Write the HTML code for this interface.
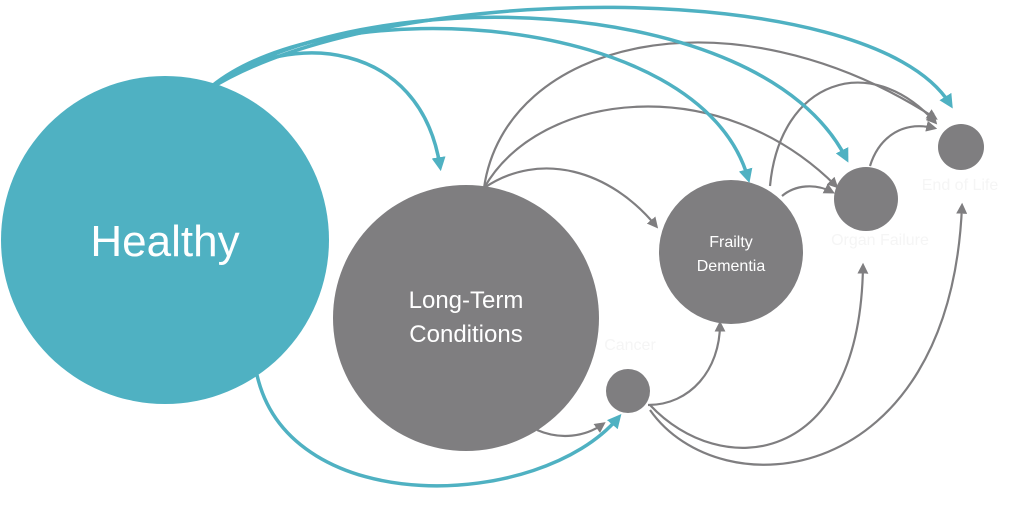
<!DOCTYPE html>
<html><head><meta charset="utf-8"><style>
html,body{margin:0;padding:0;background:#fff;}
svg{display:block;}
text{font-family:"Liberation Sans",sans-serif;fill:#fff;text-anchor:middle;}
</style></head><body>
<svg width="1024" height="507" viewBox="0 0 1024 507" xmlns="http://www.w3.org/2000/svg">
<defs>
<marker id="t" markerWidth="4" markerHeight="4" refX="2.5" refY="2" orient="auto" markerUnits="strokeWidth"><path d="M0,0 L4,2 L0,4 Z" fill="#4fb1c2"/></marker>
<marker id="g" markerWidth="5" markerHeight="5" refX="3.5" refY="2.5" orient="auto" markerUnits="strokeWidth"><path d="M0,0 L5,2.5 L0,5 Z" fill="#7f7e80"/></marker>
</defs>
<g fill="none" stroke="#7f7e80" stroke-width="2.2" marker-end="url(#g)">
<path d="M484,188 C505,40 730,-15 935,118"/>
<path d="M484,188 C540,90 720,70 836,186"/>
<path d="M484,188 C540,150 610,170 656,226"/>
<path d="M537,430 C560,440 585,437 603,424"/>
<path d="M770,186 C780,80 870,50 935,122"/>
<path d="M782,196 C795,185 815,183 832,192"/>
<path d="M870,166 C878,140 900,120 934,128"/>
<path d="M648,405 C690,405 720,370 720,324"/>
<path d="M650,405 C720,480 860,470 863,266"/>
<path d="M650,410 C720,510 950,490 962,206"/>
</g>
<circle cx="165" cy="240" r="164" fill="#4fb1c2"/>
<g fill="none" stroke="#4fb1c2" stroke-width="3.5" marker-end="url(#t)">
<path d="M215,84 C290,30 420,40 440,166"/>
<path d="M212,86 C330,-10 700,10 748,178"/>
<path d="M210,88 C360,-20 760,-10 846,158"/>
<path d="M208,90 C380,-20 870,-25 950,104"/>
<path d="M257,375 C290,520 540,510 618,418"/>
</g>
<circle cx="466" cy="318" r="133" fill="#7f7e80"/>
<circle cx="731" cy="252" r="72" fill="#7f7e80"/>
<circle cx="866" cy="199" r="32" fill="#7f7e80"/>
<circle cx="961" cy="147" r="23" fill="#7f7e80"/>
<circle cx="628" cy="391" r="22" fill="#7f7e80"/>
<text x="165" y="256" font-size="44">Healthy</text>
<text x="466" y="308" font-size="24">Long-Term</text>
<text x="466" y="342" font-size="24">Conditions</text>
<text x="731" y="247" font-size="16">Frailty</text>
<text x="731" y="271" font-size="16">Dementia</text>
<text x="960" y="190" font-size="16" style="fill:#f5f5f5">End of Life</text>
<text x="880" y="245" font-size="16" style="fill:#f5f5f5">Organ Failure</text>
<text x="630" y="350" font-size="16" style="fill:#f5f5f5">Cancer</text>
</svg>
</body></html>
